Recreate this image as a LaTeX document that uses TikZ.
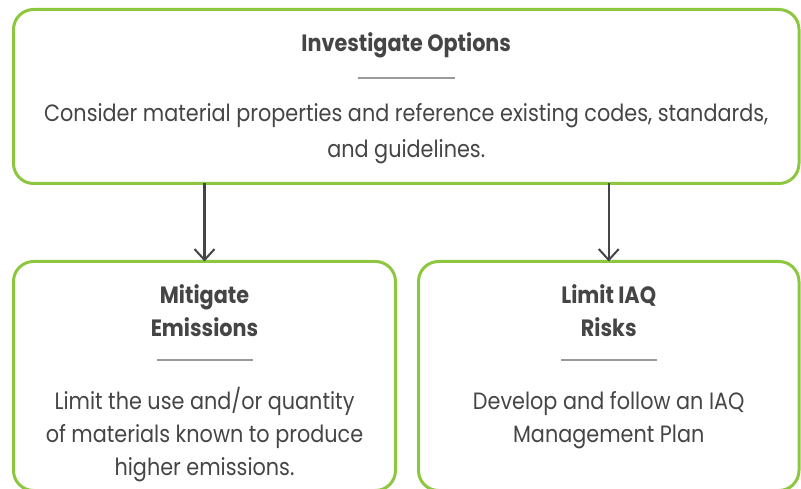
\documentclass[tikz,border=0pt]{standalone}
\usepackage{fontspec}
\setmainfont{Poppins}[FakeStretch=0.88]
\usetikzlibrary{arrows.meta}
\definecolor{leaf}{HTML}{8DC63F}
\definecolor{ink}{HTML}{454545}
\definecolor{rulegray}{HTML}{9A9A9A}

\begin{document}
\begin{tikzpicture}[x=1pt, y=-1pt,
  card/.style={draw=leaf, line width=3pt, rounded corners=20pt, inner sep=0pt, outer sep=0pt},
  head/.style={anchor=base, inner sep=0pt, text=ink, font=\fontsize{23.6}{28}\selectfont\bfseries},
  body/.style={anchor=base, inner sep=0pt, text=ink, font=\fontsize{23.6}{28}\selectfont},
  divider/.style={draw=rulegray, line width=1.2pt},
  flow/.style={draw=ink, line width=2.2pt, -{Straight Barb[length=11pt, width=20pt, line width=2pt]}}]

\useasboundingbox (0,0) rectangle (801,489);

% cards
\node[card, minimum width=785.5pt, minimum height=174pt] (top) at (406.25,96.5) {};
\node[card, minimum width=382pt, minimum height=229pt] (left) at (204.5,376) {};
\node[card, minimum width=380.5pt, minimum height=229pt] (right) at (608.75,376) {};

% top card text
\node[head] (topTitle) at (406.25,52) {Investigate Options};
\coordinate (topRuleA) at (358,78);
\coordinate (topRuleB) at (455,78);
\draw[divider] (topRuleA) -- (topRuleB);
\node[body] (topLine1) at (406.25,121.5) {Consider material properties and reference existing codes, standards,};
\node[body] (topLine2) at (406.25,158) {and guidelines.};

% left card text
\node[head] (leftTitle1) at (204.5,303) {Mitigate};
\node[head] (leftTitle2) at (204.5,337) {Emissions};
\coordinate (leftRuleA) at (157,360);
\coordinate (leftRuleB) at (253,360);
\draw[divider] (leftRuleA) -- (leftRuleB);
\node[body] (leftLine1) at (204.5,409.5) {Limit the use and/or quantity};
\node[body] (leftLine2) at (204.5,442.5) {of materials known to produce};
\node[body] (leftLine3) at (204.5,475.5) {higher emissions.};

% right card text
\node[head] (rightTitle1) at (608.75,303) {Limit IAQ};
\node[head] (rightTitle2) at (608.75,337) {Risks};
\coordinate (rightRuleA) at (561,360);
\coordinate (rightRuleB) at (657,360);
\draw[divider] (rightRuleA) -- (rightRuleB);
\node[body] (rightLine1) at (608.75,409.5) {Develop and follow an IAQ};
\node[body] (rightLine2) at (608.75,442.5) {Management Plan};

% connectors
\draw[flow] (top.south -| left.north) -- (left.north);
\draw[flow] (top.south -| right.north) -- (right.north);
\end{tikzpicture}
\end{document}
